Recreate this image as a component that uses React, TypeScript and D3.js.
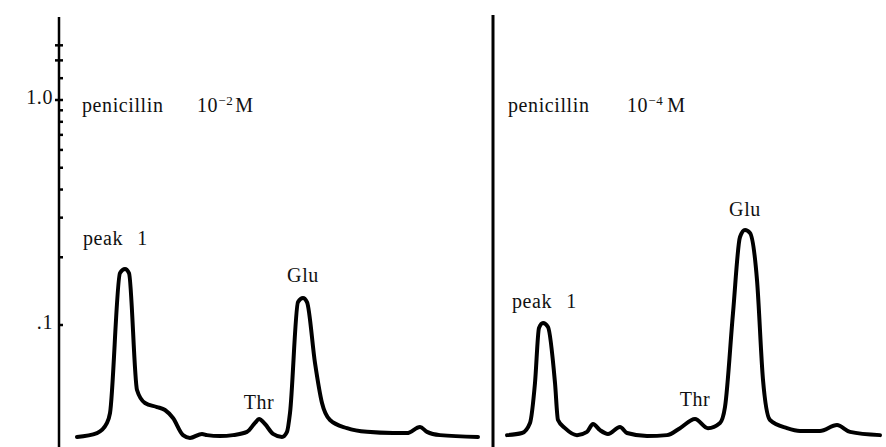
import React from 'react';
import * as d3 from 'd3';

// elution time (min) and absorbance, penicillin 10^-2 M
const leftTime = [0, 5, 7.5, 8.25, 10.75, 12, 13, 15, 17, 20, 22, 24, 26.5, 28.25, 31.25, 32.5, 35.75, 39, 42.5, 44.5, 45.5, 47, 49, 51.25, 52.5, 53.25, 55.25, 56.5, 57.5, 59.5, 61.25, 63.25, 67.5, 72.5, 79, 82.5, 85.75, 87.5, 90.75, 100.25];
const leftAbs = [0.0318, 0.0331, 0.0367, 0.0406, 0.1702, 0.1774, 0.1702, 0.0514, 0.045, 0.0432, 0.0419, 0.0386, 0.0324, 0.0315, 0.0328, 0.0324, 0.0321, 0.0324, 0.0335, 0.0367, 0.0382, 0.0363, 0.0328, 0.0318, 0.0335, 0.0406, 0.1265, 0.1318, 0.1265, 0.0678, 0.045, 0.0378, 0.0348, 0.0335, 0.0331, 0.0331, 0.0352, 0.0335, 0.0324, 0.0318];

// penicillin 10^-4 M
const rightTime = [0, 3.75, 5.75, 7, 8, 9, 10.25, 12, 12.75, 14.5, 17.5, 20, 21.5, 23.25, 25.25, 28.25, 30, 35, 40, 43.25, 47, 50.25, 53.25, 54.5, 56.5, 58.25, 59.5, 60.75, 62.5, 64, 65.75, 70, 73.25, 78.25, 82.5, 85.75, 93.25];
const rightAbs = [0.0324, 0.0331, 0.0367, 0.0553, 0.097, 0.1021, 0.098, 0.0553, 0.0378, 0.0348, 0.0324, 0.0335, 0.0363, 0.0341, 0.0328, 0.0352, 0.0331, 0.0321, 0.0324, 0.0348, 0.0382, 0.0348, 0.0367, 0.0432, 0.1131, 0.2461, 0.2644, 0.2564, 0.1585, 0.057, 0.0378, 0.0348, 0.0338, 0.0338, 0.0359, 0.0335, 0.0324];

const tickValues = [0.1, 0.2, 0.3, 0.4, 0.5, 0.6, 0.7, 0.8, 0.9, 1.0, 1.25, 1.5, 1.75];
const crossTicks = [1.0, 1.5, 1.75];
const tickLabels = [
  { v: 1.0, text: '1.0' },
  { v: 0.1, text: '.1' },
];

const FONT = 'Liberation Serif, DejaVu Serif, serif';

const App = () => {
  const width = 886;
  const height = 447;

  const y = d3.scaleLog().domain([0.1, 1]).range([325, 100]);
  const xLeft = d3.scaleLinear().domain([0, 100]).range([77, 477]);
  const xRight = d3.scaleLinear().domain([0, 93.25]).range([507, 880]);

  const makeLine = (x: d3.ScaleLinear<number, number>) =>
    d3
      .line<number[]>()
      .x((d) => x(d[0]))
      .y((d) => y(d[1]))
      .curve(d3.curveMonotoneX);

  const leftPath = makeLine(xLeft)(leftTime.map((t, i) => [t, leftAbs[i]]));
  const rightPath = makeLine(xRight)(rightTime.map((t, i) => [t, rightAbs[i]]));

  const axisX = 59;
  const dividerX = 493;

  const txt = { fontFamily: FONT, fontSize: 20, fill: '#111', letterSpacing: 0.6 };

  return (
    <div>
      <style>{`body { margin: 0; background: #fff; } svg text { font-family: 'Liberation Serif', serif; }`}</style>
      <svg width={width} height={height} style={{ display: 'block' }}>
        {/* left axis */}
        <line x1={axisX} x2={axisX} y1={17} y2={height} stroke="#000" strokeWidth={2.5} />
        {tickValues.map((v) => (
          <line
            key={v}
            x1={crossTicks.includes(v) ? axisX - 4 : axisX}
            x2={axisX + 4}
            y1={y(v)}
            y2={y(v)}
            stroke="#000"
            strokeWidth={2.5}
          />
        ))}
        {tickLabels.map((t) => (
          <text key={t.text} x={axisX - 6} y={y(t.v) + 4} textAnchor="end" {...txt}>
            {t.text}
          </text>
        ))}

        {/* divider between panels */}
        <line x1={dividerX} x2={dividerX} y1={15} y2={height} stroke="#000" strokeWidth={3} />

        {/* traces */}
        <path d={leftPath || ''} fill="none" stroke="#000" strokeWidth={4} strokeLinejoin="round" strokeLinecap="round" />
        <path d={rightPath || ''} fill="none" stroke="#000" strokeWidth={4} strokeLinejoin="round" strokeLinecap="round" />

        {/* left panel labels */}
        <text x={82} y={112} {...txt}>
          penicillin
          <tspan x={197}>10</tspan>
          <tspan dy={-7} fontSize={13}>−2</tspan>
          <tspan dy={7} dx={2}>M</tspan>
        </text>
        <text x={83} y={245} {...txt}>
          peak<tspan dx={14}>1</tspan>
        </text>
        <text x={xLeft(56.5)} y={282} textAnchor="middle" {...txt}>Glu</text>
        <text x={xLeft(45.5)} y={409} textAnchor="middle" {...txt}>Thr</text>

        {/* right panel labels */}
        <text x={508} y={112} {...txt}>
          penicillin
          <tspan x={627}>10</tspan>
          <tspan dy={-7} fontSize={13}>−4</tspan>
          <tspan dy={7} dx={4}>M</tspan>
        </text>
        <text x={512} y={308} {...txt}>
          peak<tspan dx={14}>1</tspan>
        </text>
        <text x={xRight(59.5)} y={216} textAnchor="middle" {...txt}>Glu</text>
        <text x={xRight(47)} y={406} textAnchor="middle" {...txt}>Thr</text>
      </svg>
    </div>
  );
};

export default App;
